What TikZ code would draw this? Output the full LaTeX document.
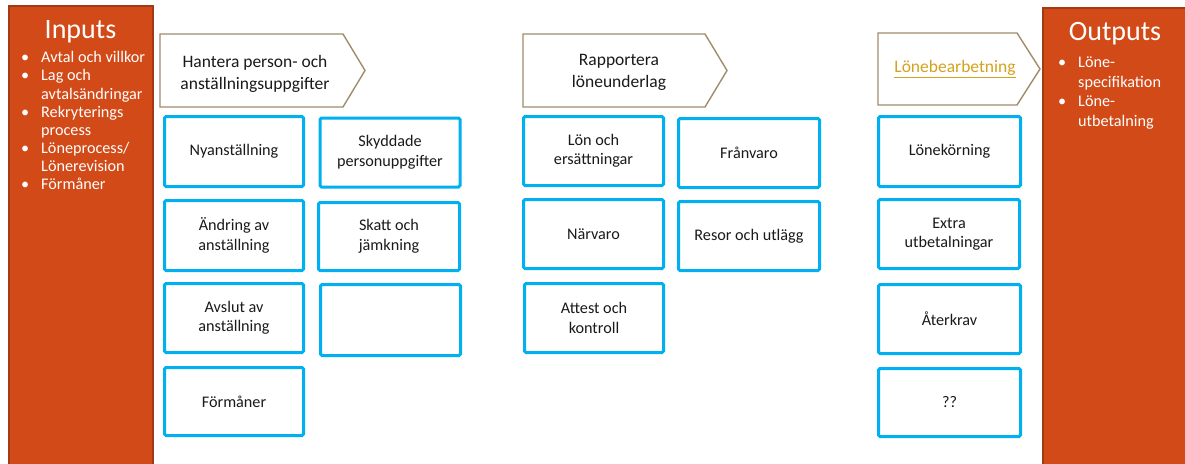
\documentclass[tikz,border=0pt]{standalone}
\usepackage{fontspec}
\setmainfont{Carlito}
\definecolor{orfill}{HTML}{D14A18}
\definecolor{ordraw}{HTML}{A23A14}
\definecolor{bluebox}{HTML}{00B0F0}
\definecolor{tan}{HTML}{A08C6C}
\definecolor{gold}{HTML}{D4A21E}
\definecolor{txt}{HTML}{1A1A1A}
\newcommand\bul{\makebox[20pt][l]{•}}
\tikzset{
  bbox/.style={draw=bluebox, line width=3pt, rounded corners=1.5pt, fill=white,
    align=center, text=txt, inner sep=2pt,
    font=\fontsize{16.2}{19.5}\selectfont},
  chev/.style={draw=tan, line width=1.4pt, fill=white},
  chevtext/.style={align=center, text=txt, inner sep=0pt,
    font=\fontsize{17.5}{22}\selectfont},
  sidebox/.style={fill=orfill, draw=ordraw, line width=2pt},
  title/.style={text=white, inner sep=0pt, font=\fontsize{28}{30}\selectfont, anchor=base},
  bullets/.style={text=white, inner sep=0pt, anchor=north west}
}
\begin{document}
\begin{tikzpicture}[x=1pt,y=-1pt]
\useasboundingbox (0,0) rectangle (1185,463);
% side boxes
\draw[sidebox] (9,6) rectangle (153,475);
\draw[sidebox] (1043,8) rectangle (1200,475);
\node[title] (inT) at (80.5,38) {Inputs};
\node[title] (outT) at (1115,40) {Outputs};
\node[bullets, font=\fontsize{16.2}{18.1}\selectfont] (inL) at (21,50)
 {\begin{tabular}{@{}l@{}l@{}}
  \bul & Avtal och villkor\\
  \bul & Lag och\\
       & avtalsändringar\\
  \bul & Rekryterings\\
       & process\\
  \bul & Löneprocess/\\
       & Lönerevision\\
  \bul & Förmåner
  \end{tabular}};
\node[bullets, font=\fontsize{16.2}{19.7}\selectfont] (outL) at (1058,53.5)
 {\begin{tabular}{@{}l@{}l@{}}
  \bul & Löne-\\
       & specifikation\\
  \bul & Löne-\\
       & utbetalning
  \end{tabular}};
% chevrons
\draw[chev] (160,34) -- (343,34) -- (365,70.5) -- (343,107) -- (160,107) -- cycle;
\node[chevtext] (c1) at (255,74) {Hantera person- och\\anställningsuppgifter};
\draw[chev] (523,34) -- (705,34) -- (727,70.5) -- (705,107) -- (523,107) -- cycle;
\node[chevtext] (c2) at (619,72) {Rapportera\\löneunderlag};
\draw[chev] (878,33) -- (1017,33) -- (1040,69) -- (1017,105) -- (878,105) -- cycle;
\node[chevtext, text=gold] (c3) at (955,69) {\underline{Lönebearbetning}};
% column 1
\node[bbox, minimum width=139pt, minimum height=70pt] (n1) at (234,151.5) {Nyanställning};
\node[bbox, minimum width=139pt, minimum height=70pt] (n2) at (234,235.5) {Ändring av\\anställning};
\node[bbox, minimum width=139pt, minimum height=69pt] (n3) at (234,318) {Avslut av\\anställning};
\node[bbox, minimum width=139pt, minimum height=68pt] (n4) at (234,401.5) {Förmåner};
% column 2
\node[bbox, minimum width=140pt, minimum height=69pt] (s1) at (390,152.5) {Skyddade\\personuppgifter};
\node[bbox, minimum width=141pt, minimum height=68pt] (s2) at (389,236.5) {Skatt och\\jämkning};
\node[bbox, minimum width=140pt, minimum height=71pt] (s3) at (390.5,320) {};
% column 3
\node[bbox, minimum width=140pt, minimum height=69pt] (r1) at (593.5,151) {Lön och\\ersättningar};
\node[bbox, minimum width=140pt, minimum height=69pt] (r2) at (593.5,234) {Närvaro};
\node[bbox, minimum width=139pt, minimum height=69pt] (r3) at (594,318) {Attest och\\kontroll};
% column 4
\node[bbox, minimum width=141pt, minimum height=69pt] (f1) at (749,153) {Frånvaro};
\node[bbox, minimum width=141pt, minimum height=69pt] (f2) at (749,236) {Resor och utlägg};
% column 5
\node[bbox, minimum width=142pt, minimum height=70pt] (l1) at (949.5,151.5) {Lönekörning};
\node[bbox, minimum width=141pt, minimum height=69pt] (l2) at (949,234) {Extra\\utbetalningar};
\node[bbox, minimum width=142pt, minimum height=69pt] (l3) at (949.5,319) {Återkrav};
\node[bbox, minimum width=142pt, minimum height=68pt] (l4) at (949.5,402.5) {??};
\end{tikzpicture}
\end{document}
